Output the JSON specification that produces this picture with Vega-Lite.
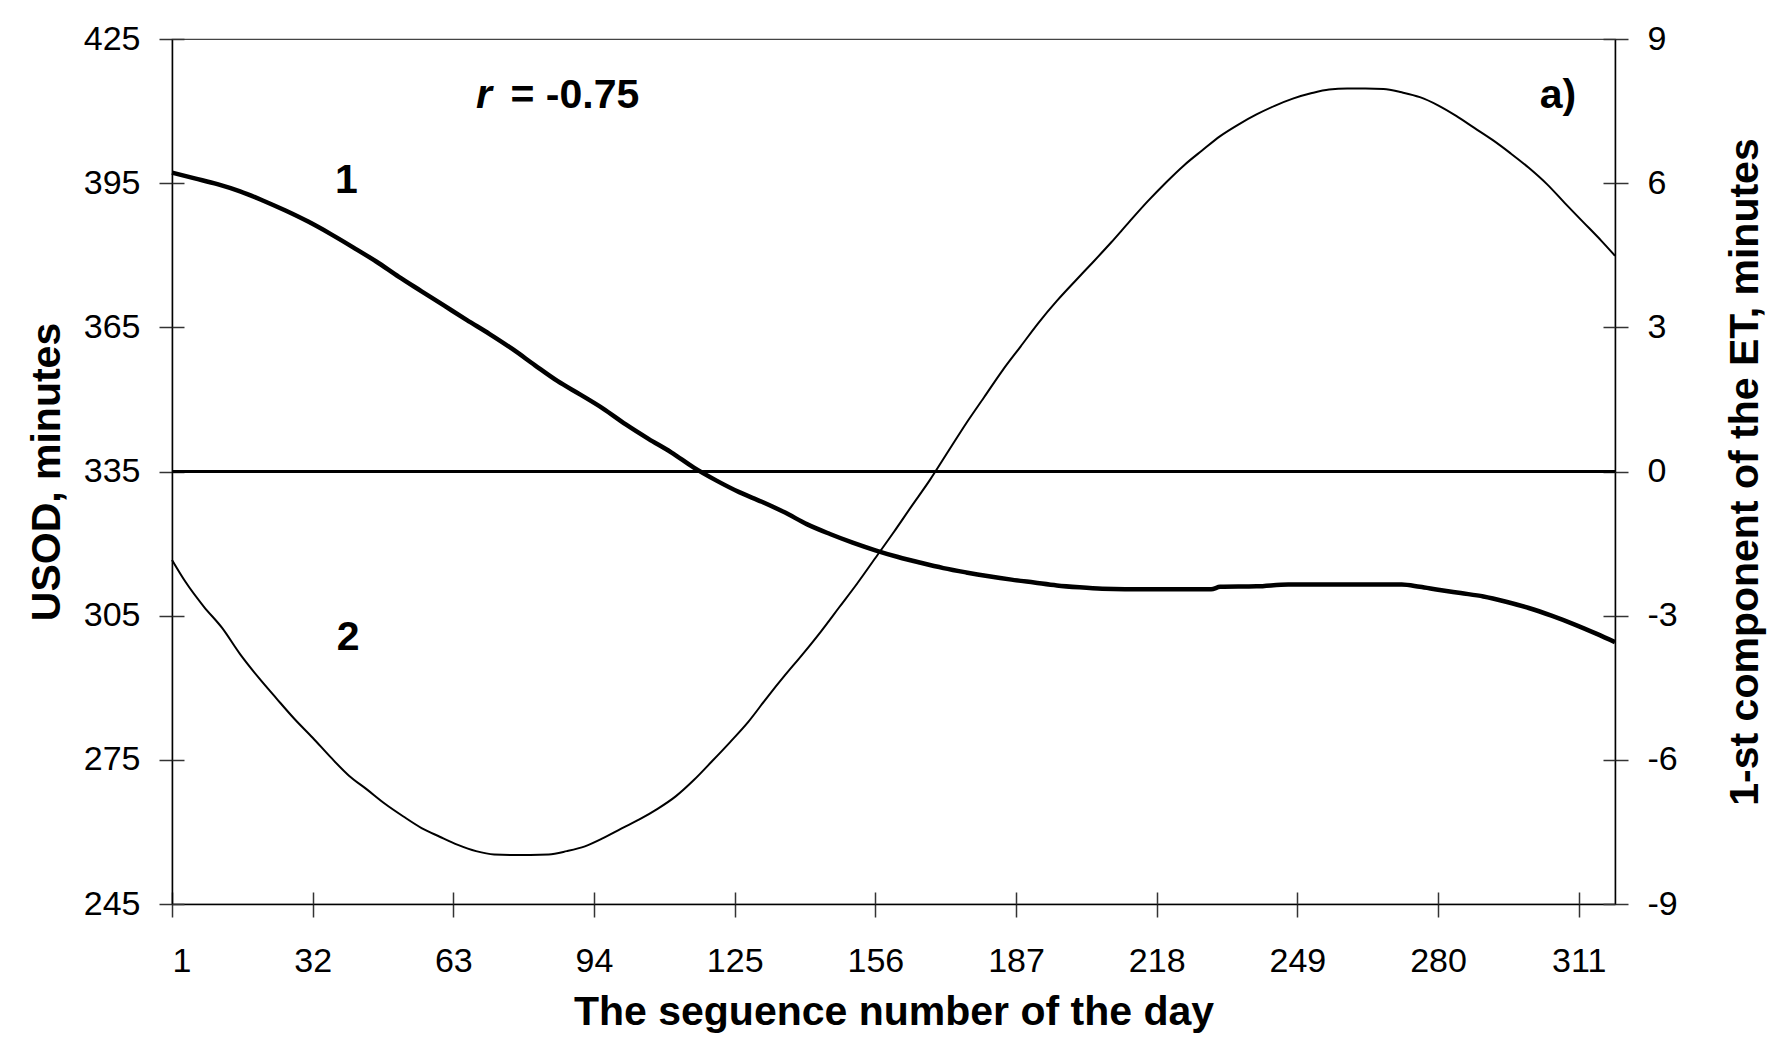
{
  "$schema": "https://vega.github.io/schema/vega-lite/v6.json",
  "width": 1443,
  "height": 865,
  "autosize": {"type": "none"},
  "padding": {"left": 172, "top": 39, "right": 162, "bottom": 139},
  "background": "white",
  "config": {
    "view": {"stroke": "#444444", "strokeWidth": 1.2},
    "font": "Liberation Sans",
    "axis": {
      "grid": false,
      "labelFont": "Liberation Sans",
      "labelFontSize": 34,
      "labelColor": "black",
      "labelExpr": "'' + datum.value",
      "titleFont": "Liberation Sans",
      "titleFontSize": 41,
      "titleFontWeight": "bold",
      "titleColor": "black",
      "domainColor": "black",
      "domainWidth": 1.5,
      "tickColor": "#333333",
      "tickWidth": 1.5,
      "tickSize": 13
    }
  },
  "datasets": {
    "usod": [
      {"day": 1, "v": 397.2}, {"day": 6, "v": 396.0}, {"day": 11, "v": 394.8}, {"day": 16, "v": 393.3},
      {"day": 21, "v": 391.4}, {"day": 26, "v": 389.3}, {"day": 31, "v": 387.0}, {"day": 36, "v": 384.4},
      {"day": 41, "v": 381.6}, {"day": 46, "v": 378.7}, {"day": 51, "v": 375.5}, {"day": 56, "v": 372.5},
      {"day": 61, "v": 369.5}, {"day": 66, "v": 366.5}, {"day": 71, "v": 363.6}, {"day": 76, "v": 360.5},
      {"day": 81, "v": 357.1}, {"day": 86, "v": 353.8}, {"day": 91, "v": 351.0}, {"day": 96, "v": 348.1},
      {"day": 101, "v": 344.8}, {"day": 106, "v": 341.8}, {"day": 111, "v": 339.0}, {"day": 116, "v": 335.8},
      {"day": 121, "v": 333.1}, {"day": 126, "v": 330.7}, {"day": 131, "v": 328.7}, {"day": 136, "v": 326.5},
      {"day": 141, "v": 324.0}, {"day": 146, "v": 322.0}, {"day": 151, "v": 320.2}, {"day": 156, "v": 318.6},
      {"day": 161, "v": 317.2}, {"day": 166, "v": 316.0}, {"day": 171, "v": 314.9}, {"day": 176, "v": 314.0},
      {"day": 181, "v": 313.2}, {"day": 186, "v": 312.5}, {"day": 191, "v": 311.9}, {"day": 196, "v": 311.3},
      {"day": 201, "v": 310.9}, {"day": 206, "v": 310.6}, {"day": 211, "v": 310.5}, {"day": 221, "v": 310.5},
      {"day": 230, "v": 310.5}, {"day": 232, "v": 311.0}, {"day": 240, "v": 311.1}, {"day": 247, "v": 311.5},
      {"day": 260, "v": 311.5}, {"day": 272, "v": 311.5}, {"day": 276, "v": 311.0}, {"day": 280, "v": 310.4},
      {"day": 285, "v": 309.7}, {"day": 290, "v": 309.0}, {"day": 295, "v": 307.9}, {"day": 300, "v": 306.6},
      {"day": 305, "v": 305.0}, {"day": 310, "v": 303.2}, {"day": 315, "v": 301.2}, {"day": 319, "v": 299.5}
    ],
    "et": [
      {"day": 1, "v": -1.84}, {"day": 4, "v": -2.3}, {"day": 8, "v": -2.81}, {"day": 12, "v": -3.25},
      {"day": 16, "v": -3.8}, {"day": 20, "v": -4.28}, {"day": 24, "v": -4.72}, {"day": 28, "v": -5.15},
      {"day": 32, "v": -5.54}, {"day": 36, "v": -5.95}, {"day": 40, "v": -6.33}, {"day": 44, "v": -6.62},
      {"day": 48, "v": -6.92}, {"day": 52, "v": -7.18}, {"day": 56, "v": -7.42}, {"day": 60, "v": -7.6},
      {"day": 64, "v": -7.77}, {"day": 68, "v": -7.9}, {"day": 72, "v": -7.97}, {"day": 76, "v": -7.98},
      {"day": 80, "v": -7.98}, {"day": 84, "v": -7.97}, {"day": 88, "v": -7.9}, {"day": 92, "v": -7.8},
      {"day": 96, "v": -7.63}, {"day": 100, "v": -7.43}, {"day": 104, "v": -7.24}, {"day": 108, "v": -7.02},
      {"day": 112, "v": -6.76}, {"day": 116, "v": -6.42}, {"day": 120, "v": -6.03}, {"day": 124, "v": -5.63},
      {"day": 128, "v": -5.21}, {"day": 132, "v": -4.72}, {"day": 136, "v": -4.25}, {"day": 140, "v": -3.8},
      {"day": 144, "v": -3.33}, {"day": 148, "v": -2.83}, {"day": 152, "v": -2.33}, {"day": 156, "v": -1.8},
      {"day": 160, "v": -1.27}, {"day": 164, "v": -0.72}, {"day": 168, "v": -0.18}, {"day": 172, "v": 0.41},
      {"day": 176, "v": 1.0}, {"day": 180, "v": 1.55}, {"day": 184, "v": 2.1}, {"day": 188, "v": 2.6},
      {"day": 192, "v": 3.1}, {"day": 196, "v": 3.55}, {"day": 200, "v": 3.96}, {"day": 204, "v": 4.36},
      {"day": 208, "v": 4.77}, {"day": 212, "v": 5.2}, {"day": 216, "v": 5.62}, {"day": 220, "v": 6.01},
      {"day": 224, "v": 6.37}, {"day": 228, "v": 6.68}, {"day": 232, "v": 6.98}, {"day": 236, "v": 7.22},
      {"day": 240, "v": 7.43}, {"day": 244, "v": 7.61}, {"day": 248, "v": 7.76}, {"day": 252, "v": 7.87},
      {"day": 256, "v": 7.95}, {"day": 260, "v": 7.97}, {"day": 264, "v": 7.97}, {"day": 268, "v": 7.96},
      {"day": 272, "v": 7.89}, {"day": 276, "v": 7.79}, {"day": 280, "v": 7.62}, {"day": 284, "v": 7.4},
      {"day": 288, "v": 7.15}, {"day": 292, "v": 6.9}, {"day": 296, "v": 6.62}, {"day": 300, "v": 6.32},
      {"day": 304, "v": 5.98}, {"day": 308, "v": 5.58}, {"day": 312, "v": 5.19}, {"day": 316, "v": 4.8},
      {"day": 319, "v": 4.49}
    ],
    "labels": [
      {"day": 36.9, "v": 393.0, "t": "1"},
      {"day": 37.3, "v": 297.9, "t": "2"},
      {"day": 75.6, "v": 410.6, "t": "= -0.75"},
      {"day": 302.4, "v": 410.7, "t": "a)"}
    ],
    "italic": [
      {"day": 68, "v": 410.6, "t": "r"}
    ],
    "zero": [
      {"v": 0}
    ]
  },
  "layer": [
    {
      "encoding": {
        "x": {
          "field": "day",
          "type": "quantitative",
          "scale": {"domain": [1, 319], "nice": false, "zero": false},
          "axis": {
            "orient": "bottom",
            "values": [1, 32, 63, 94, 125, 156, 187, 218, 249, 280, 311],
            "title": "The seguence number of the day",
            "labelPadding": 27,
            "titlePadding": 14,
            "tickSize": 13
          }
        }
      },
      "layer": [
        {
          "data": {"name": "usod"},
          "mark": {"type": "line", "color": "black", "strokeWidth": 4.5, "interpolate": "monotone"},
          "encoding": {
            "y": {
              "field": "v",
              "type": "quantitative",
              "scale": {"domain": [245, 425], "nice": false, "zero": false},
              "axis": {
                "orient": "left",
                "values": [245, 275, 305, 335, 365, 395, 425],
                "title": "USOD, minutes",
                "labelPadding": 19,
                "titlePadding": 15,
                "tickSize": 13
              }
            }
          }
        },
        {
          "data": {"name": "labels"},
          "mark": {"type": "text", "font": "Liberation Sans", "fontSize": 41, "fontWeight": "bold", "align": "left", "baseline": "alphabetic", "color": "black"},
          "encoding": {
            "text": {"field": "t"},
            "y": {
              "field": "v",
              "type": "quantitative",
              "axis": {
                "orient": "right",
                "offset": -1443,
                "values": [245, 275, 305, 335, 365, 395, 425],
                "labels": false,
                "domain": false,
                "title": null,
                "tickSize": 12
              }
            }
          }
        },
        {
          "data": {"name": "italic"},
          "mark": {"type": "text", "font": "Liberation Sans", "fontSize": 41, "fontWeight": "bold", "fontStyle": "italic", "align": "left", "baseline": "alphabetic", "color": "black"},
          "encoding": {
            "text": {"field": "t"},
            "y": {"field": "v", "type": "quantitative", "axis": null}
          }
        }
      ],
      "resolve": {"axis": {"y": "independent"}}
    },
    {
      "layer": [
        {
          "data": {"name": "et"},
          "mark": {"type": "line", "color": "black", "strokeWidth": 2, "interpolate": "monotone"},
          "encoding": {
            "x": {
              "field": "day",
              "type": "quantitative",
              "scale": {"domain": [1, 319], "nice": false, "zero": false},
              "axis": {
                "orient": "top",
                "offset": -865,
                "values": [1, 32, 63, 94, 125, 156, 187, 218, 249, 280, 311],
                "labels": false,
                "domain": false,
                "title": null,
                "tickSize": 12
              }
            },
            "y": {
              "field": "v",
              "type": "quantitative",
              "scale": {"domain": [-9, 9], "nice": false, "zero": false},
              "axis": {
                "orient": "right",
                "values": [-9, -6, -3, 0, 3, 6, 9],
                "title": "1-st component of the ET, minutes",
                "titleAngle": -90,
                "titleBaseline": "top",
                "labelPadding": 19,
                "titlePadding": 48,
                "tickSize": 13
              }
            }
          }
        },
        {
          "data": {"name": "zero"},
          "mark": {"type": "rule", "color": "black", "strokeWidth": 3},
          "encoding": {
            "y": {
              "field": "v",
              "type": "quantitative",
              "axis": {
                "orient": "left",
                "offset": -1443,
                "values": [-9, -6, -3, 0, 3, 6, 9],
                "labels": false,
                "domain": false,
                "title": null,
                "tickSize": 12
              }
            }
          }
        }
      ],
      "resolve": {"axis": {"y": "independent"}}
    }
  ],
  "resolve": {"scale": {"y": "independent"}, "axis": {"x": "independent"}}
}
